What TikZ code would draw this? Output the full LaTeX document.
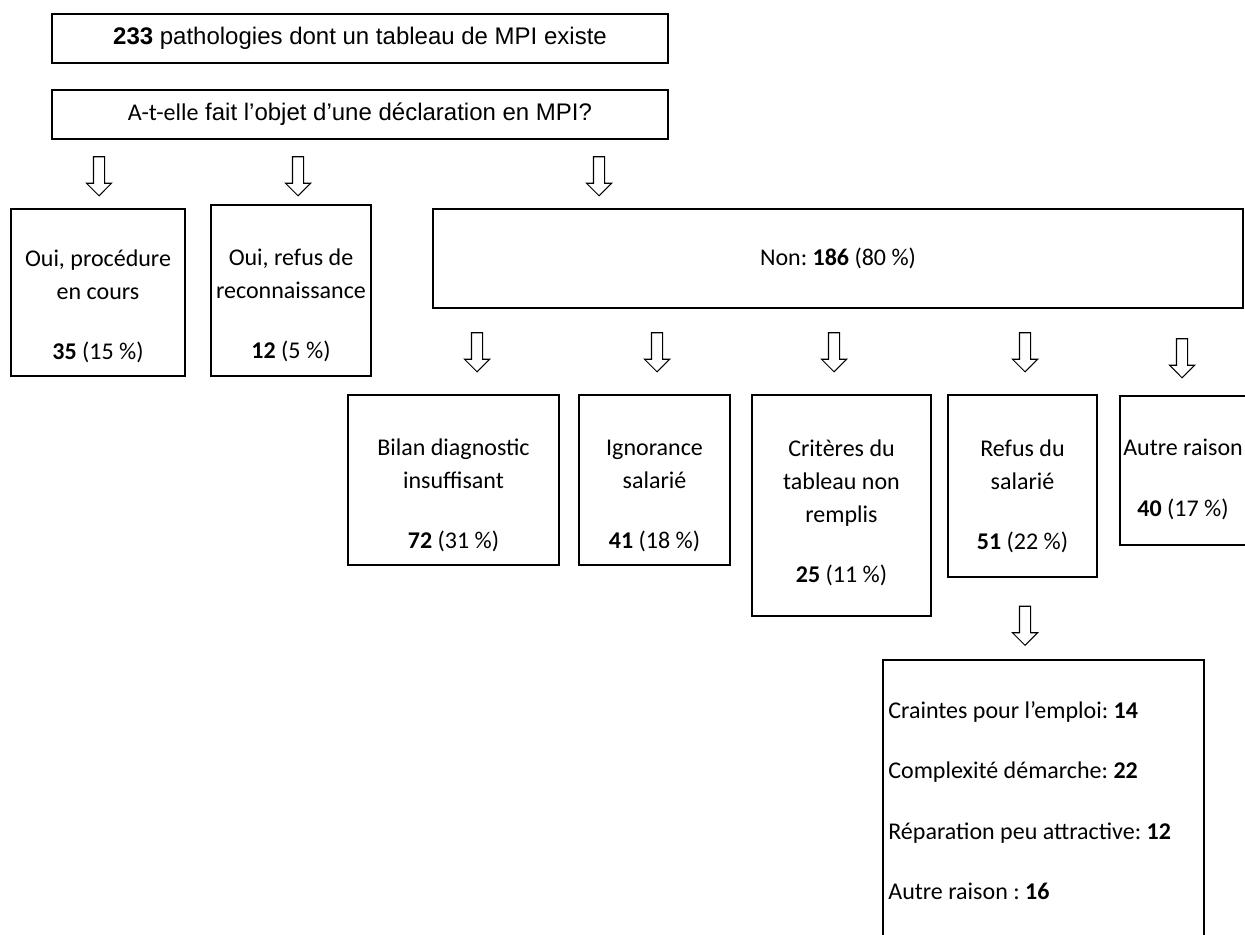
\documentclass[tikz,border=0pt]{standalone}
\usepackage{fontspec}
\setmainfont{Carlito}
\newfontfamily\arialfont{Liberation Sans}
\usetikzlibrary{shapes.arrows,positioning}
\frenchspacing

\newcommand\bodyfont{\fontsize{13.66pt}{18.78pt}\selectfont}
\newcommand\headfont{\arialfont\fontsize{13.66pt}{16pt}\selectfont}
\newcommand\skipline{\\[15.6pt]}

\tikzset{
    box/.style={draw, line width=0.9pt, inner sep=0pt},
    wh/.style 2 args={minimum width=#1*0.02cm, minimum height=#2*0.02cm},
    headbox/.style={box, font=\headfont},
    txt/.style={font=\bodyfont, align=center, inner sep=0pt, anchor=north, execute at begin node={\bodyfont\strut}},
    downarrow/.style={draw, line width=0.6pt, fill=white, single arrow, rotate=-90,
        minimum height=0.78cm, inner xsep=0pt, inner ysep=0.1cm, single arrow head extend=0.14cm}
}

\begin{document}
\begin{tikzpicture}[x=0.02cm, y=-0.02cm]
    \useasboundingbox (0,0) rectangle (1245,935);
    \clip (0,0) rectangle (1245,935);

    % top
    \node[headbox, wh={616}{49}] (patho) at (360,38.5) {\textbf{233} pathologies dont un tableau de MPI existe};
    \node[headbox, wh={616}{49}] (decl) at (360,114.5) {{\rmfamily A-t-elle} fait l’objet d’une déclaration en MPI?};

    \node[downarrow] (a1) at (99,173.5) {};
    \node[downarrow] (a2) at (298,173.5) {};
    \node[downarrow] (a3) at (599,173.5) {};

    % first level
    \node[box, wh={174}{167}] (ouiproc) at (98,292.5) {};
    \node[txt] (ouiproc-t) at (98,249) {Oui, procédure\\en cours\skipline\textbf{35} (15 \%)};
    \node[box, wh={160}{171}] (ouirefus) at (291,290.5) {};
    \node[txt] (ouirefus-t) at (291,248) {Oui, refus de\\reconnaissance\skipline\textbf{12} (5 \%)};
    \node[box, font=\bodyfont, wh={810}{99}] (non) at (838,258.5) {Non: \textbf{186} (80 \%)};

    \node[downarrow] (a4) at (477,349.5) {};
    \node[downarrow] (a5) at (657,349.5) {};
    \node[downarrow] (a6) at (834,349.5) {};
    \node[downarrow] (a7) at (1025,349.5) {};
    \node[downarrow] (a8) at (1182,355.5) {};

    % reasons for no declaration
    \node[box, wh={211}{170}] (bilan) at (453.5,480) {};
    \node[txt] (bilan-t) at (453.5,438) {Bilan diagnostic\\insuffisant\skipline\textbf{72} (31 \%)};
    \node[box, wh={151}{170}] (ignor) at (654.5,480) {};
    \node[txt] (ignor-t) at (654.5,439.5) {Ignorance\\salarié\skipline\textbf{41} (18 \%)};
    \node[box, wh={179}{221}] (criteres) at (841.5,505.5) {};
    \node[txt] (criteres-t) at (841.5,439) {Critères du\\tableau non\\remplis\skipline\textbf{25} (11 \%)};
    \node[box, wh={149}{182}] (refussal) at (1022.5,486) {};
    \node[txt] (refussal-t) at (1022.5,439) {Refus du\\salarié\skipline\textbf{51} (22 \%)};
    \node[box, wh={130}{149}] (autre) at (1185,470.5) {};
    \node[txt] (autre-t) at (1183,439) {Autre raison\skipline\textbf{40} (17 \%)};

    \node[downarrow] (a9) at (1025,623) {};

    % detail of the refusal
    \node[box, wh={321}{300}] (detail) at (1043.5,810) {};
    \node[txt, anchor=north west, align=left] (detail-t) at (888,701) {Craintes pour l’emploi: \textbf{14}\skipline
        Complexité démarche: \textbf{22}\skipline
        Réparation peu attractive: \textbf{12}\skipline
        Autre raison : \textbf{16}};
\end{tikzpicture}
\end{document}
